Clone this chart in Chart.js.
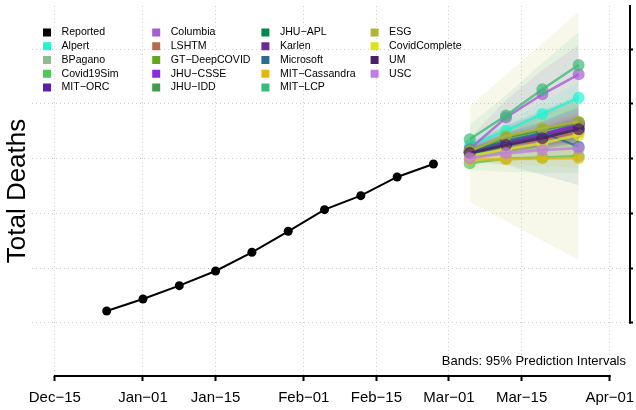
<!DOCTYPE html>
<html>
<head>
<meta charset="utf-8">
<script src="https://cdn.jsdelivr.net/npm/chart.js@4.4.1/dist/chart.umd.min.js"></script>
<style>
  html, body { margin: 0; padding: 0; background: #fff; }
</style>
</head>
<body>
<canvas id="myChart" width="636" height="410"></canvas>
<script>
// reported weekly totals
const reportedDates = ['2020-12-25', '2021-01-01', '2021-01-08', '2021-01-15', '2021-01-22',
  '2021-01-29', '2021-02-05', '2021-02-12', '2021-02-19', '2021-02-26']
const reportedDeaths = [22140, 24340, 26770, 29460, 32880, 36720, 40670, 43230, 46650, 49030]

// forecast targets
const forecastDates = ['2021-03-05', '2021-03-12', '2021-03-19', '2021-03-26']

const modelNames = ['Alpert', 'BPagano', 'Covid19Sim', 'MIT-ORC', 'Columbia', 'LSHTM', 'GT-DeepCOVID',
  'JHU-CSSE', 'JHU-IDD', 'JHU-APL', 'Karlen', 'Microsoft', 'MIT-Cassandra', 'MIT-LCP', 'ESG',
  'CovidComplete', 'UM', 'USC']
const modelColors = ['#1ff5d6', '#8fbc8f', '#50c85a', '#5a22a0', '#a55cd5', '#b8694d', '#66a61e',
  '#8a2be2', '#449b48', '#00894a', '#6a2c90', '#2b6d8c', '#e6b70f', '#3bbb78', '#b1b535',
  '#dfe31a', '#4d1e66', '#bf7fe0']

// point forecasts, same order as modelNames
const forecastMid = [
  [52410, 55120, 58170, 61150],
  [51400, 53600, 55060, 56340],
  [49150, 50030, 50210, 50490],
  [51400, 53050, 54510, 56160],
  [51770, 57530, 61770, 65430],
  [51040, 52320, 53510, 54880],
  [51220, 53780, 55340, 56620],
  [51220, 53100, 54330, 56470],
  [51590, 53870, 55250, 56530],
  [50860, 52410, 53970, 55430],
  [51130, 52870, 54060, 55790],
  [51220, 53230, 54750, 52190],
  [49850, 49890, 50070, 50120],
  [53540, 57900, 62690, 67130],
  [51400, 54150, 55560, 56760],
  [50490, 51720, 52810, 54330],
  [51040, 52500, 53730, 55370],
  [50070, 50980, 51590, 51900]
]
// 95% prediction interval, lower
const forecastLo = [
  [51400, 53600, 56160, 58540],
  [50490, 51590, 51950, 52320],
  [47930, 47560, 47380, 47380],
  [50490, 51220, 52140, 53050],
  [50120, 53780, 57440, 60730],
  [50120, 50670, 51220, 51770],
  [50310, 51950, 52870, 53420],
  [50310, 51590, 52140, 53420],
  [50310, 51220, 51590, 51950],
  [49940, 51040, 52320, 53420],
  [50120, 51220, 51770, 52870],
  [49760, 48840, 47010, 45190],
  [49210, 48840, 48660, 48300],
  [51590, 53780, 56160, 58540],
  [42130, 38600, 35040, 31470],
  [49390, 49760, 50120, 50670],
  [50120, 51040, 51770, 52870],
  [49210, 49580, 49760, 49760]
]
// 95% prediction interval, upper
const forecastHi = [
  [53420, 56710, 60370, 64020],
  [52320, 55610, 58170, 60730],
  [50120, 51590, 52500, 53420],
  [52320, 54700, 56890, 59270],
  [53780, 60730, 66220, 70790],
  [51950, 54150, 55980, 58170],
  [52320, 55610, 57990, 60370],
  [52140, 54700, 56710, 59630],
  [52870, 56160, 58900, 61650],
  [51770, 53780, 55610, 57440],
  [52140, 54330, 56340, 58540],
  [52680, 55980, 58540, 61100],
  [50490, 50860, 51400, 51950],
  [56160, 61650, 67500, 73170],
  [59630, 65360, 71100, 76830],
  [51590, 53780, 55610, 57810],
  [51950, 53970, 55790, 57810],
  [51040, 52500, 53600, 54700]
]

const xTickDates = ['2020-12-15', '2021-01-01', '2021-01-15', '2021-02-01', '2021-02-15',
  '2021-03-01', '2021-03-15', '2021-04-01']
const xTickLabels = ['Dec\u221215', 'Jan\u221201', 'Jan\u221215', 'Feb\u221201', 'Feb\u221215',
  'Mar\u221201', 'Mar\u221215', 'Apr\u221201']
const yTicks = [20000, 30000, 40000, 50000, 60000, 70000]

const FONT = '"Liberation Sans", Arial, sans-serif'

// days since Dec 15
const origin = Date.UTC(2020, 11, 15)
function dayNum(s) { return (Date.parse(s) - origin) / 86400000 }
const xTickDays = xTickDates.map(dayNum)
const forecastDays = forecastDates.map(dayNum)

function rgba(hex, a) {
  let n = parseInt(hex.slice(1), 16)
  return `rgba(${(n >> 16) & 255},${(n >> 8) & 255},${n & 255},${a})`
}

let datasets = []

// bands first
modelNames.forEach((name, i) => {
  datasets.push({
    label: name + ' lo',
    data: forecastDays.map((d, j) => ({x: d, y: forecastLo[i][j]})),
    borderColor: 'transparent', borderWidth: 0, pointRadius: 0, fill: false, order: 300
  })
  datasets.push({
    label: name + ' hi',
    data: forecastDays.map((d, j) => ({x: d, y: forecastHi[i][j]})),
    borderColor: 'transparent', borderWidth: 0, pointRadius: 0,
    fill: datasets.length - 1,
    backgroundColor: rgba(modelColors[i], 0.1), order: 300
  })
})

// forecast lines
modelNames.forEach((name, i) => {
  datasets.push({
    label: name,
    data: forecastDays.map((d, j) => ({x: d, y: forecastMid[i][j]})),
    borderColor: rgba(modelColors[i], 0.8),
    borderWidth: 2.5,
    pointRadius: 6,
    pointBackgroundColor: rgba(modelColors[i], 0.7),
    pointBorderColor: rgba(modelColors[i], 0.7),
    pointBorderWidth: 0,
    fill: false,
    order: 100 - i
  })
})

datasets.push({
  label: 'Reported',
  data: reportedDates.map((d, j) => ({x: dayNum(d), y: reportedDeaths[j]})),
  borderColor: '#000', borderWidth: 2,
  pointRadius: 4.5, pointBackgroundColor: '#000', pointBorderColor: '#000', pointBorderWidth: 0,
  fill: false, order: 0
})

// R style legend, column by column
const colLegend = {
  id: 'colLegend',
  afterDraw(chart) {
    const ctx = chart.ctx
    let items = [{name: 'Reported', color: '#000000'}]
    modelNames.forEach((n, i) => items.push({name: n, color: modelColors[i]}))
    ctx.save()
    ctx.font = '10.6px ' + FONT
    ctx.textBaseline = 'middle'
    ctx.textAlign = 'left'
    items.forEach((it, i) => {
      let col = Math.floor(i / 5), row = i % 5
      let cx = 47 + col * 109.2, cy = 32.5 + row * 13.75
      ctx.fillStyle = it.color
      ctx.fillRect(cx - 4, cy - 4, 8, 8)
      ctx.fillStyle = '#000'
      ctx.fillText(it.name.replace(/-/g, '\u2212'), cx + 14.5, cy)
    })
    ctx.restore()
  }
}

// axis lines that only span the ticks, plus the loose texts
const extras = {
  id: 'extras',
  afterDraw(chart) {
    const ctx = chart.ctx
    const xs = chart.scales.x, ys = chart.scales.y
    const area = chart.chartArea
    ctx.save()
    ctx.strokeStyle = '#000'
    ctx.lineWidth = 2
    ctx.beginPath()
    ctx.moveTo(xs.getPixelForValue(xTickDays[0]) - 1, area.bottom)
    ctx.lineTo(xs.getPixelForValue(xTickDays[xTickDays.length - 1]) + 1, area.bottom)
    ctx.moveTo(area.right, area.top - 1)
    ctx.lineTo(area.right, ys.getPixelForValue(yTicks[0]) + 1)
    ctx.stroke()

    ctx.fillStyle = '#000'
    ctx.font = '13px ' + FONT
    ctx.textAlign = 'right'
    ctx.textBaseline = 'middle'
    ctx.fillText('Bands: 95% Prediction Intervals', 626, 361)

    ctx.translate(18, 191)
    ctx.rotate(-Math.PI / 2)
    ctx.font = '26px ' + FONT
    ctx.textAlign = 'center'
    ctx.fillText('Total Deaths', 0, 0)
    ctx.restore()
  }
}

const ctx = document.getElementById('myChart').getContext('2d')
new Chart(ctx, {
  type: 'line',
  data: { datasets: datasets },
  options: {
    responsive: false,
    animation: false,
    layout: { padding: { left: 32, top: 6, right: -2, bottom: 1 } },
    plugins: { legend: { display: false }, tooltip: { enabled: false } },
    elements: { line: { tension: 0 } },
    scales: {
      x: {
        type: 'linear',
        min: -4.4, max: 110.9,
        afterBuildTicks: (scale) => { scale.ticks = xTickDays.map(v => ({value: v})) },
        afterFit: (scale) => { scale.height = 33; scale.paddingLeft = 0; scale.paddingRight = 0 },
        ticks: {
          autoSkip: false, maxRotation: 0, padding: 8, color: '#000',
          font: { family: FONT, size: 15 },
          callback: (v, i) => xTickLabels[i]
        },
        grid: {
          color: '#cfcfcf', lineWidth: 1, tickLength: 5,
          tickColor: '#000', tickWidth: 2, tickBorderDash: []
        },
        border: { display: false, dash: [1, 3] }
      },
      y: {
        type: 'linear',
        position: 'right',
        min: 10250, max: 77920,
        afterBuildTicks: (scale) => { scale.ticks = yTicks.map(v => ({value: v})) },
        afterFit: (scale) => { scale.width = 3; scale.paddingTop = 0; scale.paddingBottom = 0 },
        ticks: { display: false },
        grid: {
          color: '#cfcfcf', lineWidth: 1, tickLength: 3,
          tickColor: '#000', tickWidth: 2, tickBorderDash: []
        },
        border: { display: false, dash: [1, 3] }
      }
    }
  },
  plugins: [colLegend, extras]
})
</script>
</body>
</html>
